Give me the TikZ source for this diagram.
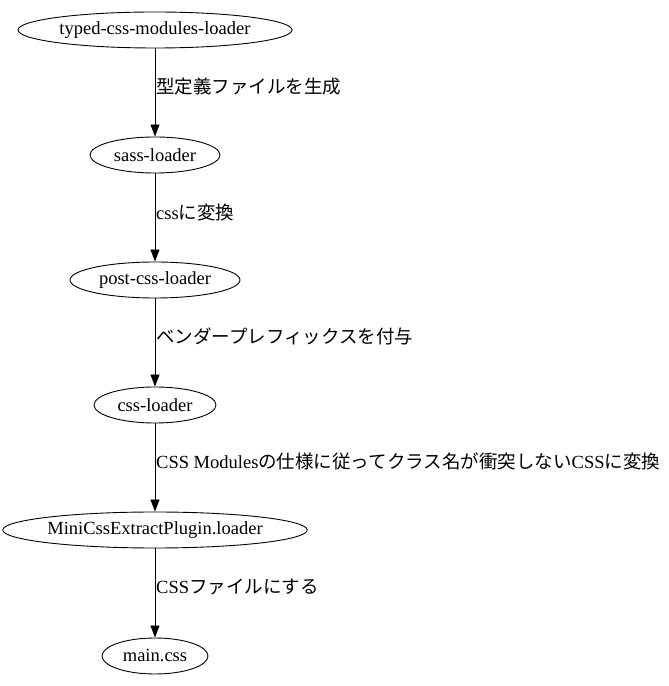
\documentclass[tikz,border=0pt]{standalone}
\usepackage{fontspec}
\setmainfont{Liberation Serif}
\newfontfamily\jp{Noto Sans CJK JP}
\usetikzlibrary{arrows.meta,shapes.geometric}
\begin{document}
\begin{tikzpicture}[x=1pt,y=1pt,
  nd/.style={draw,ellipse,line width=0.9pt,minimum height=36pt,inner sep=0pt,font=\fontsize{18.5}{20}\selectfont},
  edge/.style={draw,line width=0.9pt,-{Triangle[length=12pt,width=9pt]}},
  lbl/.style={anchor=west,inner sep=0pt,font=\fontsize{18.5}{20}\selectfont}]
\useasboundingbox (0,0) rectangle (669,686);
\node[nd,minimum width=274pt] (a) at (155,656) {typed-css-modules-loader};
\node[nd,minimum width=130pt] (b) at (155,531) {sass-loader};
\node[nd,minimum width=170pt] (c) at (155,406) {post-css-loader};
\node[nd,minimum width=122pt] (d) at (155,281) {css-loader};
\node[nd,minimum width=300pt] (e) at (155,156) {MiniCssExtractPlugin.loader};
\node[nd,minimum width=106pt] (f) at (155,30) {main.css};
\draw[edge] (a) -- (b);
\draw[edge] (b) -- (c);
\draw[edge] (c) -- (d);
\draw[edge] (d) -- (e);
\draw[edge] (e) -- (f);
\node[lbl] (la) at (156,599) {{\jp 型定義ファイルを生成}};
\node[lbl] (lb) at (156,474) {css{\jp に変換}};
\node[lbl] (lc) at (156,350) {{\jp ベンダープレフィックスを付与}};
\node[lbl] (ld) at (156,225) {CSS Modules{\jp の仕様に従ってクラス名が衝突しない}CSS{\jp に変換}};
\node[lbl] (le) at (156,99) {CSS{\jp ファイルにする}};
\end{tikzpicture}
\end{document}
